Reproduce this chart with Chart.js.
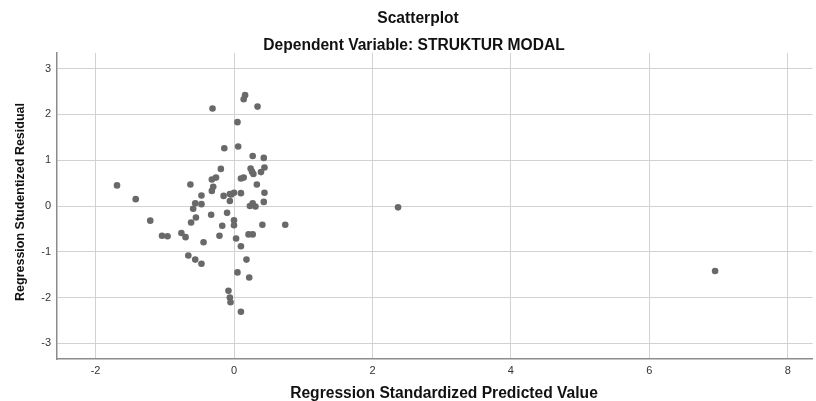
<!DOCTYPE html>
<html>
<head>
<meta charset="utf-8">
<script src="https://cdn.jsdelivr.net/npm/chart.js@4/dist/chart.umd.min.js"></script>
<style>
  html, body { margin: 0; padding: 0; background: #fff; }
  #wrap { width: 816px; height: 401px; }
</style>
</head>
<body>
<div id="wrap"><canvas id="scatter" width="816" height="401"></canvas></div>
<script>
// residual plot values
const predicted = [
  -1.69, -1.42, -0.31, 0.16, 0.14, 0.34, 0.05, -0.14, 0.06, 0.27,
  0.43, -0.19, 0.24, 0.44, 0.26, 0.28, 0.39, -0.26, -0.32, 0.14,
  0.10, -0.63, 0.33, -0.30, -0.32, 0.44, -0.47, -0.15, -0.06, 0.00,
  0.10, -0.06, 0.43, -0.56, -0.47, -0.59, 0.27, 0.23, 0.31, -1.21,
  -0.33, -0.10, -0.55, -0.62, 0.00, 0.00, -0.17, 0.41, 0.74, -1.04,
  -0.96, -0.76, -0.70, -0.44, -0.21, 0.03, 0.21, 0.27, 0.10, -0.66,
  -0.56, -0.47, 0.18, 0.05, 0.22, -0.08, -0.06, -0.05, 0.10, 2.37,
  6.95, -0.04
];
const residual = [
  0.45, 0.15, 2.13, 2.42, 2.33, 2.17, 1.83, 1.26, 1.30, 1.09,
  1.05, 0.81, 0.82, 0.84, 0.75, 0.70, 0.74, 0.62, 0.58, 0.62,
  0.60, 0.47, 0.47, 0.42, 0.33, 0.29, 0.23, 0.22, 0.26, 0.29,
  0.28, 0.11, 0.09, 0.06, 0.04, -0.06, 0.06, 0.00, -0.01, -0.32,
  -0.19, -0.15, -0.25, -0.36, -0.31, -0.42, -0.43, -0.41, -0.41, -0.65,
  -0.66, -0.59, -0.68, -0.79, -0.65, -0.71, -0.62, -0.62, -0.88, -1.08,
  -1.17, -1.26, -1.17, -1.45, -1.56, -1.85, -2.00, -2.10, -2.31, -0.03,
  -1.42, 0.25
];
const xTicks = [-2, 0, 2, 4, 6, 8];
const yTicks = [-3, -2, -1, 0, 1, 2, 3];

const mainTitle = "Scatterplot";
const subTitle = "Dependent Variable: STRUKTUR MODAL";
const xTitle = "Regression Standardized Predicted Value";
const yTitle = "Regression Studentized Residual";

const FONT = '"Liberation Sans", Arial, sans-serif';

const points = predicted.map((x, i) => ({ x, y: residual[i] }));

// titles drawn by hand so they land where SPSS put them
const titlesPlugin = {
  id: "spssTitles",
  afterDraw(chart) {
    const ctx = chart.ctx;
    const area = chart.chartArea;
    ctx.save();
    ctx.fillStyle = "#111";
    ctx.textAlign = "center";
    ctx.textBaseline = "alphabetic";
    ctx.font = "bold 15.6px " + FONT;
    ctx.fillText(mainTitle, 418, 23);
    ctx.fillText(subTitle, 414, 50);
    ctx.fillText(xTitle, 444, 398);

    ctx.translate(23.5, (area.top + area.bottom) / 2 - 4);
    ctx.rotate(-Math.PI / 2);
    ctx.font = "bold 12.5px " + FONT;
    ctx.fillText(yTitle, 0, 0);
    ctx.restore();
  },
};

new Chart(document.getElementById("scatter"), {
  type: "scatter",
  data: {
    datasets: [{
      label: "Residual",
      data: points,
      pointRadius: 3.3,
      pointHoverRadius: 3.3,
      pointBackgroundColor: "#696969",
      pointBorderColor: "#696969",
      pointBorderWidth: 0,
    }],
  },
  options: {
    responsive: false,
    animation: false,
    layout: { padding: { top: 53, left: 0, right: -4, bottom: 0 } },
    plugins: {
      legend: { display: false },
      tooltip: { enabled: false },
    },
    scales: {
      x: {
        type: "linear",
        min: -2.557,
        max: 8.36,
        afterFit: (scale) => {
          scale.height = 42;
          scale.paddingLeft = 0;
          scale.paddingRight = 0;
        },
        afterBuildTicks: (scale) => { scale.ticks = xTicks.map((v) => ({ value: v })); },
        grid: { color: "#d2d2d2", lineWidth: 1, drawTicks: false },
        border: { color: "#8c8c8c", width: 1.5 },
        ticks: {
          padding: 5,
          color: "#333",
          font: { family: FONT, size: 11 },
          maxRotation: 0,
        },
      },
      y: {
        type: "linear",
        min: -3.34,
        max: 3.34,
        afterFit: (scale) => {
          scale.width = 57;
          scale.paddingTop = 0;
          scale.paddingBottom = 0;
        },
        afterBuildTicks: (scale) => { scale.ticks = yTicks.map((v) => ({ value: v })); },
        grid: { color: "#d2d2d2", lineWidth: 1, drawTicks: false },
        border: { color: "#8c8c8c", width: 1.5 },
        ticks: {
          padding: 6,
          color: "#333",
          font: { family: FONT, size: 11 },
        },
      },
    },
  },
  plugins: [titlesPlugin],
});
</script>
</body>
</html>
